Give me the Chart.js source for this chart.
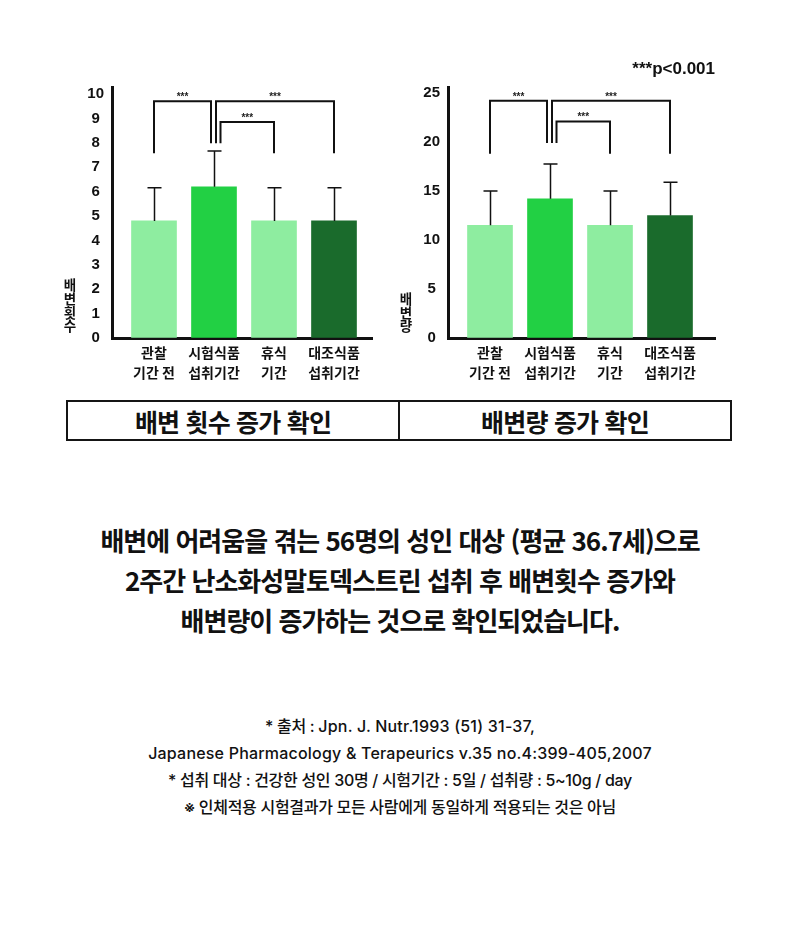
<!DOCTYPE html>
<html lang="ko">
<head>
<meta charset="utf-8">
<script src="https://cdn.jsdelivr.net/npm/chart.js@4.4.1/dist/chart.umd.min.js"></script>
<style>
  body { margin: 0; background: #fff; }
  .page { position: relative; width: 800px; height: 949px; overflow: hidden; font-family: 'Noto Sans CJK KR', sans-serif; color: #111; }
  canvas { position: absolute; top: 40px; }
  #countChart { left: 0; }
  #volumeChart { left: 400px; }
  .box { position: absolute; left: 66px; top: 400px; width: 666px; height: 41px; box-sizing: border-box; border: 2px solid #151515; display: flex; }
  .box div { flex: 1; display: flex; align-items: center; justify-content: center; font-weight: 700; font-size: 25px; letter-spacing: -0.8px; }
  .box div:first-child { border-right: 2px solid #151515; }
  .summary { position: absolute; top: 520px; left: 0; width: 800px; text-align: center; font-weight: 700; font-size: 26px; line-height: 40px; letter-spacing: -1px; }
  .source { position: absolute; top: 713px; left: 0; width: 800px; text-align: center; font-family: 'Inter', 'Noto Sans CJK KR', sans-serif; font-weight: 500; font-size: 16px; line-height: 27px; color: #111; letter-spacing: -0.3px; }
  .source .latin { letter-spacing: 0.2px; }
</style>
</head>
<body>
<div class="page">
  <canvas id="countChart" width="400" height="360"></canvas>
  <canvas id="volumeChart" width="400" height="360"></canvas>
  <div class="box"><div>배변 횟수 증가 확인</div><div>배변량 증가 확인</div></div>
  <div class="summary">
    배변에 어려움을 겪는 56명의 성인 대상 (평균 36.7세)으로<br>
    2주간 난소화성말토덱스트린 섭취 후 배변횟수 증가와<br>
    배변량이 증가하는 것으로 확인되었습니다.
  </div>
  <div class="source">
    * 출처 : <span class="latin">Jpn. J. Nutr.1993 (51) 31-37,</span><br>
    <span class="latin">Japanese Pharmacology &amp; Terapeurics v.35 no.4:399-405,2007</span><br>
    * 섭취 대상 : 건강한 성인 30명 / 시험기간 : 5일 / 섭취량 : 5~10g / day<br>
    ※ 인체적용 시험결과가 모든 사람에게 동일하게 적용되는 것은 아님
  </div>
</div>
<script>
// --- data ---
const periodLabels = [['관찰', '기간 전'], ['시험식품', '섭취기간'], ['휴식', '기간'], ['대조식품', '섭취기간']];
const barColors = ['#8eeda0', '#22d044', '#8eeda0', '#1a6b2c'];

const countMeans = [4.8, 6.2, 4.8, 4.8];
const countErrors = [1.36, 1.46, 1.36, 1.36];
const countTicks = [0, 1, 2, 3, 4, 5, 6, 7, 8, 9, 10];
const countBracketTops = [9.7, 9.7, 8.85];
const countLegEnds = [7.57, 7.98]; // outer bars, test-food bar

const volumeMeans = [11.5, 14.2, 11.5, 12.5];
const volumeErrors = [3.5, 3.55, 3.5, 3.4];
const volumeTicks = [0, 5, 10, 15, 20, 25];
const volumeBracketTops = [24.2, 24.2, 22.1];
const volumeLegEnds = [18.8, 19.9];

// comparisons: test-food period against the other three
const bracketPairs = [[0, 1], [1, 3], [1, 2]];
const hubIndex = 1;

Chart.defaults.font.family = "'Noto Sans CJK KR', sans-serif";
Chart.defaults.color = '#111';

// small px nudges so the legs at the hub bar don't overlap
const legShift = [[0, -3], [2, 0], [6.5, 0]];

const marksPlugin = {
    id: 'marks',
    afterDatasetsDraw(chart, args, opts) {
        const { ctx } = chart;
        const x = chart.scales.x, y = chart.scales.y;
        ctx.save();
        ctx.strokeStyle = '#111';

        // error bars (upper only)
        ctx.lineWidth = 1.5;
        opts.means.forEach((m, i) => {
            const px = Math.round(x.getPixelForValue(i)) + 0.5;
            const y0 = y.getPixelForValue(m);
            const y1 = y.getPixelForValue(m + opts.errors[i]);
            ctx.beginPath();
            ctx.moveTo(px, y0);
            ctx.lineTo(px, y1);
            ctx.moveTo(px - 7, y1);
            ctx.lineTo(px + 7, y1);
            ctx.stroke();
        });

        // significance brackets
        ctx.lineWidth = 2;
        ctx.fillStyle = '#222';
        ctx.font = "bold 10px 'Liberation Sans', sans-serif";
        ctx.textAlign = 'center';
        ctx.textBaseline = 'alphabetic';
        bracketPairs.forEach(([a, b], k) => {
            const xa = x.getPixelForValue(a) + legShift[k][0];
            const xb = x.getPixelForValue(b) + legShift[k][1];
            const yt = y.getPixelForValue(opts.tops[k]);
            const ya = y.getPixelForValue(opts.legEnds[a === hubIndex ? 1 : 0]);
            const yb = y.getPixelForValue(opts.legEnds[b === hubIndex ? 1 : 0]);
            ctx.beginPath();
            ctx.moveTo(xa, ya);
            ctx.lineTo(xa, yt);
            ctx.lineTo(xb, yt);
            ctx.lineTo(xb, yb);
            ctx.stroke();
            ctx.fillText('***', (xa + xb) / 2, yt - 1);
        });
        ctx.restore();
    },
    afterDraw(chart, args, opts) {
        const { ctx, chartArea } = chart;
        ctx.save();
        ctx.fillStyle = '#111';
        // stacked vertical axis title
        ctx.font = "bold 13.5px 'Noto Sans CJK KR', sans-serif";
        ctx.textAlign = 'center';
        ctx.textBaseline = 'middle';
        const chars = Array.from(opts.title);
        chars.forEach((ch, i) => {
            const yy = chartArea.bottom - 12 - (chars.length - 1 - i) * 13.6;
            ctx.fillText(ch, chartArea.left - 42, yy);
        });
        if (opts.note) {
            ctx.font = "bold 17px 'Liberation Sans', sans-serif";
            ctx.textAlign = 'right';
            ctx.fillText(opts.note, chartArea.right, chartArea.top - 18);
        }
        ctx.restore();
    }
};

// areaLeft = where the y axis sits inside the 400px canvas, areaWidth = plot width
function makeChart(id, means, errors, ticks, yMax, areaLeft, areaWidth, tops, legEnds, title, note, yWidth) {
    const ctx = document.getElementById(id).getContext('2d');
    return new Chart(ctx, {
        type: 'bar',
        data: {
            datasets: [{
                data: means.map((v, i) => ({ x: i, y: v })),
                backgroundColor: barColors,
                borderWidth: 0,
                barThickness: 45
            }]
        },
        options: {
            responsive: false,
            animation: false,
            layout: { padding: { top: 47, bottom: 12, left: areaLeft - yWidth, right: 400 - areaLeft - areaWidth } },
            plugins: {
                legend: { display: false },
                tooltip: { enabled: false },
                marks: { means, errors, tops, legEnds, title, note }
            },
            scales: {
                x: {
                    type: 'linear',
                    offset: false,
                    min: -0.7,
                    max: areaWidth / 60 - 0.7,
                    grid: { color: 'transparent', drawTicks: false },
                    border: { display: true, color: '#111', width: 3 },
                    afterBuildTicks: s => { s.ticks = periodLabels.map((_, i) => ({ value: i })); },
                    afterFit: s => { s.height = 50; },
                    ticks: {
                        padding: 5,
                        maxRotation: 0,
                        autoSkip: false,
                        color: '#111',
                        font: { size: 14, weight: 'bold', lineHeight: 1.43 },
                        callback: v => periodLabels[v]
                    }
                },
                y: {
                    min: 0,
                    max: yMax,
                    grid: { color: 'transparent', drawTicks: false },
                    border: { display: true, color: '#111', width: 3 },
                    afterBuildTicks: s => { s.ticks = ticks.map(v => ({ value: v })); },
                    afterFit: s => { s.width = yWidth; },
                    ticks: {
                        padding: 8,
                        crossAlign: 'center',
                        color: '#111',
                        font: { family: "'Liberation Sans', sans-serif", size: 15, weight: 'bold' }
                    }
                }
            }
        },
        plugins: [marksPlugin]
    });
}

makeChart('countChart', countMeans, countErrors, countTicks, 251 / 24.4, 112, 260,
    countBracketTops, countLegEnds, '배변횟수', '', 52);
makeChart('volumeChart', volumeMeans, volumeErrors, volumeTicks, 251 / 9.8, 48, 267,
    volumeBracketTops, volumeLegEnds, '배변량', '***p<0.001', 40);
</script>
</body>
</html>
